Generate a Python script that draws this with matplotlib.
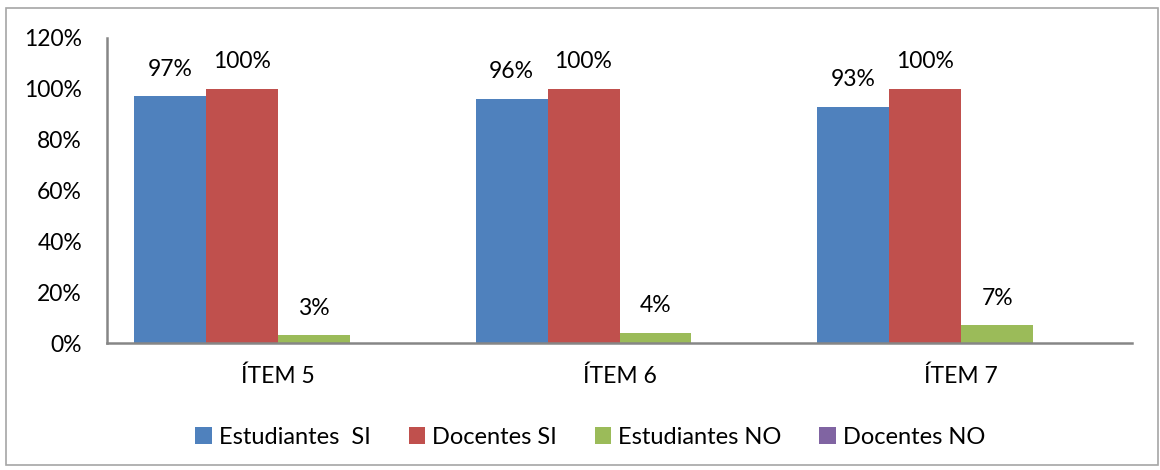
import numpy as np
import matplotlib.pyplot as plt
from matplotlib.patches import Rectangle

# Datos
categorias = ['ÍTEM 5', 'ÍTEM 6', 'ÍTEM 7']
series = ['Estudiantes  SI', 'Docentes SI', 'Estudiantes NO', 'Docentes NO']
estudiantes_si = [0.97, 0.96, 0.93]
docentes_si = [1.00, 1.00, 1.00]
estudiantes_no = [0.03, 0.04, 0.07]
docentes_no = [0.0, 0.0, 0.0]
colores = ['#4F81BD', '#C0504D', '#9BBB59', '#8064A2']

plt.rcParams['font.family'] = ['Lato', 'DejaVu Sans']

fig = plt.figure(figsize=(11.6, 4.7), dpi=100)
ax = fig.add_axes([107 / 1160, 1 - 343 / 470, 1025 / 1160, 305 / 470])

valores = [estudiantes_si, docentes_si, estudiantes_no, docentes_no]
x = np.arange(len(categorias))
ancho = 0.2105
for i, (nombre, vals, col) in enumerate(zip(series, valores, colores)):
    pos = x + (i - 1.5) * ancho
    ax.bar(pos, vals, width=ancho, color=col, label=nombre)
    for p, v in zip(pos, vals):
        if v > 0:
            ax.annotate(f'{v:.0%}', (p, v), xytext=(0, 19.5), textcoords='offset points',
                        ha='center', va='center', fontsize=16.5)

ax.set_xlim(-0.5, len(categorias) - 0.5)
ax.set_ylim(0, 1.2)
ax.set_yticks(np.arange(0, 1.21, 0.2))
ax.set_yticklabels([f'{int(round(t * 100))}%' for t in np.arange(0, 1.21, 0.2)])
ax.set_xticks(x)
ax.set_xticklabels(categorias)
ax.tick_params(axis='y', length=0, pad=18, labelsize=16.5)
ax.tick_params(axis='x', length=0, pad=16, labelsize=16.5)

for s in ['top', 'right']:
    ax.spines[s].set_visible(False)
for s in ['left', 'bottom']:
    ax.spines[s].set_color('#868686')
    ax.spines[s].set_linewidth(1.8)

fig.legend(loc='center', bbox_to_anchor=(0.509, 0.07), ncol=4, frameon=False,
           fontsize=17, handlelength=0.7, handleheight=0.7, handletextpad=0.3,
           columnspacing=1.6)

fig.patches.append(Rectangle((6 / 1160, 5 / 470), 1152 / 1160, 457 / 470,
                             transform=fig.transFigure, fill=False,
                             edgecolor='#A6A6A6', linewidth=1.2))

fig.savefig('out.png', dpi=100)
